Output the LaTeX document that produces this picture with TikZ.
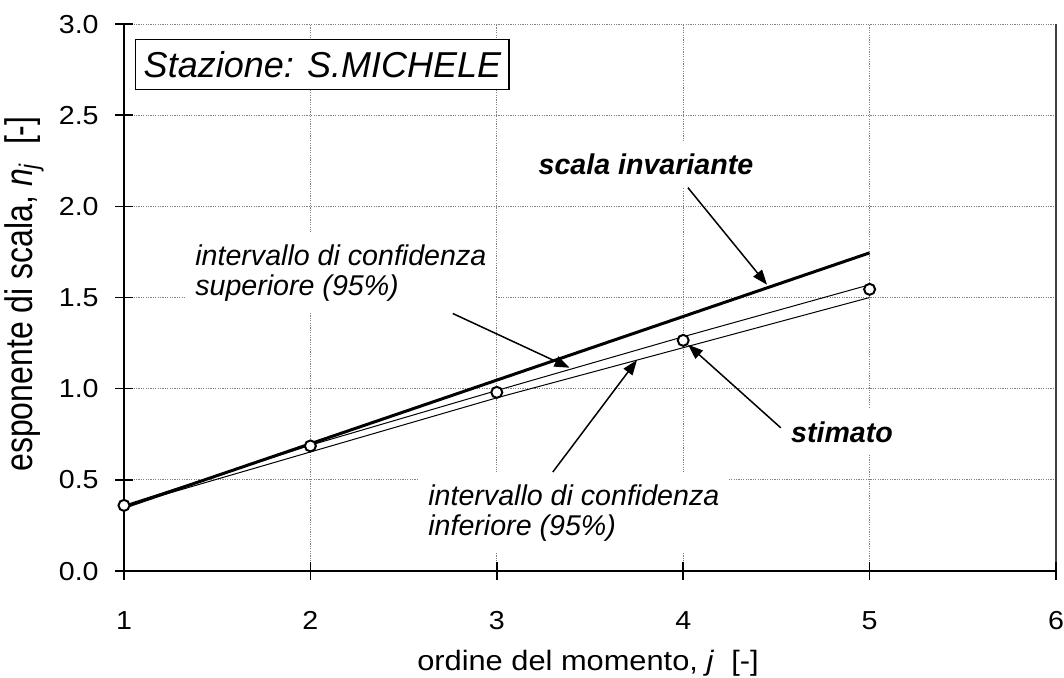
\documentclass[tikz,border=0pt]{standalone}
\usepackage{fontspec}
\setmainfont{Liberation Sans}
\newfontfamily\axisfont[FakeStretch=1.1]{Liberation Sans}
\usepackage{graphicx}
\usepackage{tikz}
\usetikzlibrary{arrows.meta}

\begin{document}
\begin{tikzpicture}
  [x=93.2pt,y=91.17pt,
   gridline/.style={gray,line width=0.4pt,dash pattern=on 0.6pt off 0.6pt},
   ticklabel/.style={font=\axisfont\fontsize{13}{15}\selectfont,inner sep=0pt},
   note/.style={fill=white,font=\fontsize{14.3}{15}\selectfont\itshape,align=left,inner xsep=5pt,inner ysep=6pt},
   pointer/.style={line width=0.75pt,-{Triangle[length=7.5pt,width=5.5pt]}},
   datapt/.style={circle,draw,fill=white,line width=1pt,minimum size=5.5pt,inner sep=0pt}]
  \useasboundingbox (0.3348,-0.5814) rectangle (6.0429,3.1317);

  \foreach \j in {2,...,5} \draw[gridline] (\j,0) -- (\j,3);
  \foreach \n in {0.5,1.0,...,3.0} \draw[gridline] (1,\n) -- (6,\n);
  \draw[gray!50!black,line width=0.6pt] (6,0) -- (6,3);

  \node[note,anchor=north west] (sup) at (1.327,1.859) {intervallo di confidenza\\superiore (95\%)};
  \node[note,anchor=north west] (inf) at (2.577,0.543) {intervallo di confidenza\\inferiore (95\%)};
  \node[note,anchor=base,font=\fontsize{14.3}{15}\selectfont\bfseries\itshape] (inv) at (3.800,2.172) {scala invariante};
  \node[note,anchor=base,font=\fontsize{14.3}{15}\selectfont\bfseries\itshape] (stim) at (4.852,0.7075) {stimato};
  \node[draw,fill=white,line width=0.75pt,anchor=north west,minimum height=25pt,inner xsep=4pt,
        font=\fontsize{18}{20}\selectfont\itshape] (stn) at (1.059,2.918) {Stazione: S.MICHELE};

  \draw[line width=0.75pt] (1,3) -- (1,0) -- (6,0);
  \foreach \n [count=\k] in {0.0,0.5,1.0,1.5,2.0,2.5,3.0} {
    \draw[line width=0.75pt] (0.952,\n) -- (1.048,\n);
    \node[ticklabel,anchor=base east] (yt\k) at (0.866,\n-0.05) {\n};
  }
  \foreach \j in {1,...,6} {
    \draw[line width=0.75pt] (\j,-0.049) -- (\j,0.049);
    \node[ticklabel,anchor=base] (xt\j) at (\j,-0.318) {\j};
  }
  \node[font=\axisfont\fontsize{14}{16}\selectfont,anchor=base] (xlab) at (3.489,-0.543)
    {ordine del momento, \textit{j}\ \ [-]};
  \node[rotate=90,font=\fontsize{16}{18}\selectfont] (ylab) at (0.4635,1.519)
    {\scalebox{1}[1.2]{esponente di scala, \textit{n}\textsubscript{\textit{j}}\ \ [-]}};

  \draw[line width=1.5pt] (1,0.349) -- (5,1.745);
  \draw[line width=0.5pt] (1,0.36) -- (2,0.69) -- (3,0.99) -- (4,1.285) -- (5,1.57);
  \draw[line width=0.5pt] (1,0.355) -- (2,0.653) -- (3,0.95) -- (4,1.225) -- (5,1.5);
  \foreach \j/\n in {1/0.36,2/0.686,3/0.98,4/1.265,5/1.545}
    \node[datapt] (p\j) at (\j,\n) {};

  \coordinate (invtip) at (4.45,1.57);
  \coordinate (suptip) at (3.39,1.115);
  \coordinate (inftip) at (3.752,1.157);
  \draw[pointer] ([xshift=21pt]inv.south) -- (invtip);
  \draw[pointer] ([xshift=56pt]sup.south) -- (suptip);
  \draw[pointer] ([xshift=-10.5pt]inf.north) -- (inftip);
  \draw[pointer] ([yshift=2pt]stim.west) -- (p4);
\end{tikzpicture}
\end{document}
